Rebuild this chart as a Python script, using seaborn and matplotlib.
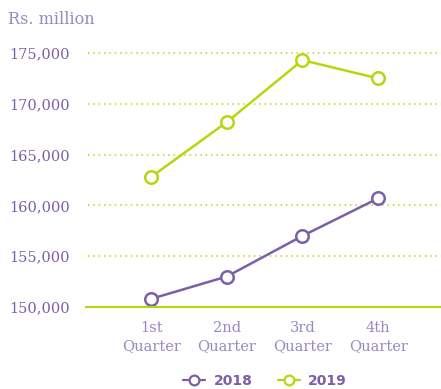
import seaborn as sns
import matplotlib.pyplot as plt
import pandas as pd

quarters = ["1st\nQuarter", "2nd\nQuarter", "3rd\nQuarter", "4th\nQuarter"]
values_2018 = [150800, 153000, 157000, 160700]
values_2019 = [162800, 168200, 174300, 172500]
yticks = [150000, 155000, 160000, 165000, 170000, 175000]

purple = "#7b5fa8"
green = "#b6d70f"

df = pd.DataFrame({
    "quarter": list(range(4)) * 2,
    "value": values_2018 + values_2019,
    "year": ["2018"] * 4 + ["2019"] * 4,
})

sns.set_style("white")
fig = plt.figure(figsize=(4.41, 3.89), dpi=100)
ax = fig.add_axes([86 / 441, (389 - 307) / 389, 355 / 441, (307 - 38) / 389])

sns.lineplot(data=df, x="quarter", y="value", hue="year",
             palette={"2018": purple, "2019": green}, marker="o",
             markersize=9, markerfacecolor="white", markeredgewidth=1.8,
             linewidth=1.8, ax=ax, legend=False)
# marker edges follow line colours
for line, c in zip(ax.get_lines(), [purple, green]):
    line.set_markeredgecolor(c)

ax.set_xlim(-0.86, 3.83)
ax.set_ylim(150000, 176480)
ax.set_yticks(yticks)
ax.set_yticklabels([f"{v:,}" for v in yticks], fontsize=10.5, color=purple,
                   family="DejaVu Serif")
ax.set_xticks(range(4))
ax.set_xticklabels(quarters, fontsize=10.5, color="#9a88c2", family="DejaVu Serif",
                   linespacing=1.4)
ax.tick_params(axis="y", length=0, pad=11.5)
ax.tick_params(axis="x", length=0, pad=10)
for t in yticks[1:]:
    ax.axhline(t, xmin=0.006, color=green, linestyle=(0, (1, 2.5)), linewidth=1.1, zorder=0)
for s in ["top", "right", "left"]:
    ax.spines[s].set_visible(False)
ax.spines["bottom"].set_color(green)
ax.spines["bottom"].set_linewidth(1.5)
ax.set_xlabel("")
ax.set_ylabel("")

fig.text(8 / 441, 1 - 20 / 389, "Rs. million", fontsize=11.5, color="#9a88c2",
         family="DejaVu Serif", va="center")

handles = [plt.Line2D([], [], color=c, marker="o", markersize=7, markerfacecolor="white",
                      markeredgewidth=1.6, linewidth=1.6) for c in [purple, green]]
leg = fig.legend(handles, ["2018", "2019"], loc="center", bbox_to_anchor=(265 / 441, 1 - 381 / 389),
                 ncol=2, frameon=False, fontsize=10, handlelength=1.6, columnspacing=1.8,
                 handletextpad=0.6)
for t in leg.get_texts():
    t.set_color(purple)
    t.set_fontweight("bold")

fig.savefig("out.png", dpi=100)
